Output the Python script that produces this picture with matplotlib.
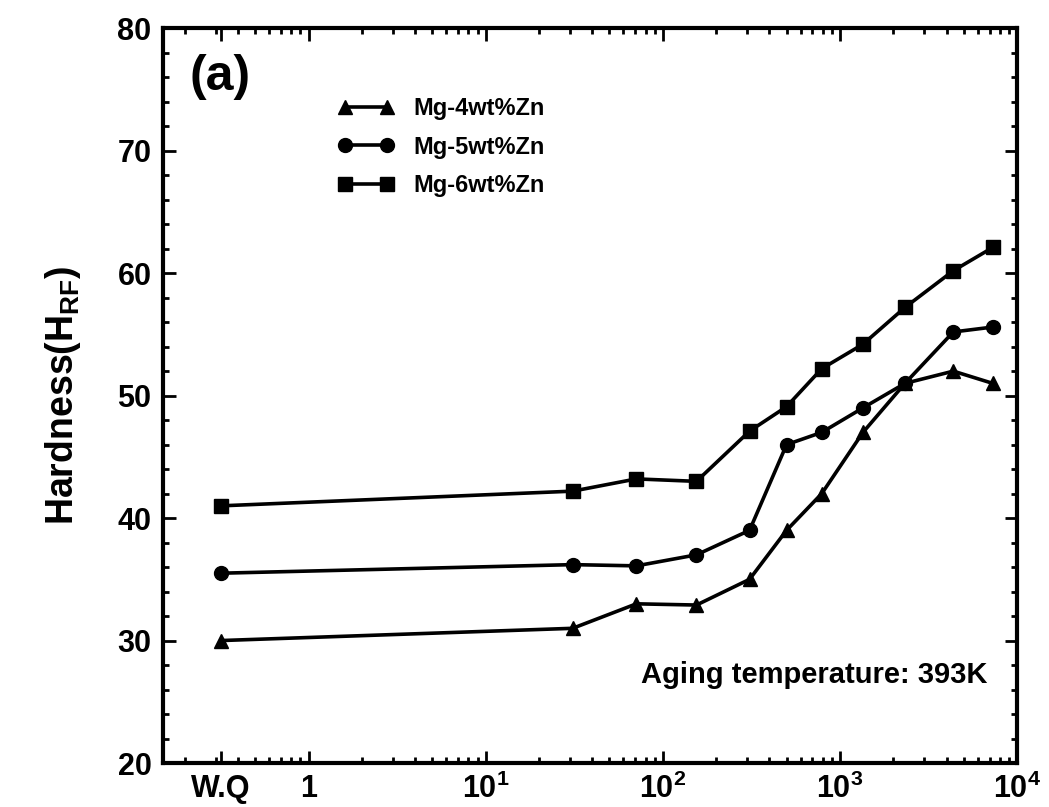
import matplotlib.pyplot as plt
from matplotlib.ticker import FixedLocator, LogLocator, MultipleLocator, NullFormatter

plt.rcParams['font.family'] = ['Liberation Sans Narrow', 'Liberation Sans', 'DejaVu Sans']
plt.rcParams['font.weight'] = 'bold'
plt.rcParams['mathtext.default'] = 'regular'

# tiempo de envejecimiento (el primer punto es W.Q, colocado a la izquierda de 1)
tiempos = [0.32, 31, 71, 155, 309, 500, 790, 1350, 2330, 4370, 7300]
mg4 = [30.0, 31.0, 33.0, 32.9, 35.0, 39.0, 42.0, 47.0, 51.0, 52.0, 51.0]
mg5 = [35.5, 36.2, 36.1, 37.0, 39.0, 46.0, 47.0, 49.0, 51.0, 55.2, 55.6]
mg6 = [41.0, 42.2, 43.2, 43.0, 47.1, 49.1, 52.2, 54.2, 57.2, 60.2, 62.1]

ticks_x = [0.32, 1, 10, 100, 1000, 10000]
etiquetas_x = ['W.Q', '1', '10$^1$', '10$^2$', '10$^3$', '10$^4$']

fig = plt.figure(figsize=(10.49, 8.07), dpi=100)
ax = fig.add_axes([0.155, 0.0545, 0.8145, 0.9105])

estilo = dict(color='black', linewidth=2.6, markersize=10)
ax.plot(tiempos, mg4, marker='^', label='Mg-4wt%Zn', **estilo)
ax.plot(tiempos, mg5, marker='o', label='Mg-5wt%Zn', **estilo)
ax.plot(tiempos, mg6, marker='s', label='Mg-6wt%Zn', **estilo)

ax.set_xscale('log')
ax.set_xlim(0.15, 10000)
ax.set_ylim(20, 80)

ax.xaxis.set_major_locator(FixedLocator(ticks_x))
ax.set_xticklabels(etiquetas_x)
ax.xaxis.set_minor_locator(LogLocator(base=10, subs=range(2, 10)))
ax.xaxis.set_minor_formatter(NullFormatter())
ax.yaxis.set_major_locator(MultipleLocator(10))
ax.yaxis.set_minor_locator(MultipleLocator(2))

ax.tick_params(which='both', direction='in', top=True, right=True, labelsize=22, width=2)
ax.tick_params(which='major', length=9, pad=8)
ax.tick_params(which='minor', length=4)
for lado in ax.spines.values():
    lado.set_linewidth(3)

ax.set_ylabel('Hardness(H$_{RF}$)', fontsize=27, fontweight='bold', labelpad=25)

ax.text(0.032, 0.965, '(a)', transform=ax.transAxes, fontsize=36, fontweight='bold', va='top')
ax.text(0.965, 0.12, 'Aging temperature: 393K', transform=ax.transAxes, fontsize=21,
        fontweight='bold', ha='right', va='center')

ax.legend(loc='upper left', bbox_to_anchor=(0.18, 0.935), frameon=False,
          numpoints=2, handlelength=2.4, handletextpad=0.8, labelspacing=0.65,
          prop={'weight': 'bold', 'size': 17})

fig.savefig('out.png', dpi=100)
